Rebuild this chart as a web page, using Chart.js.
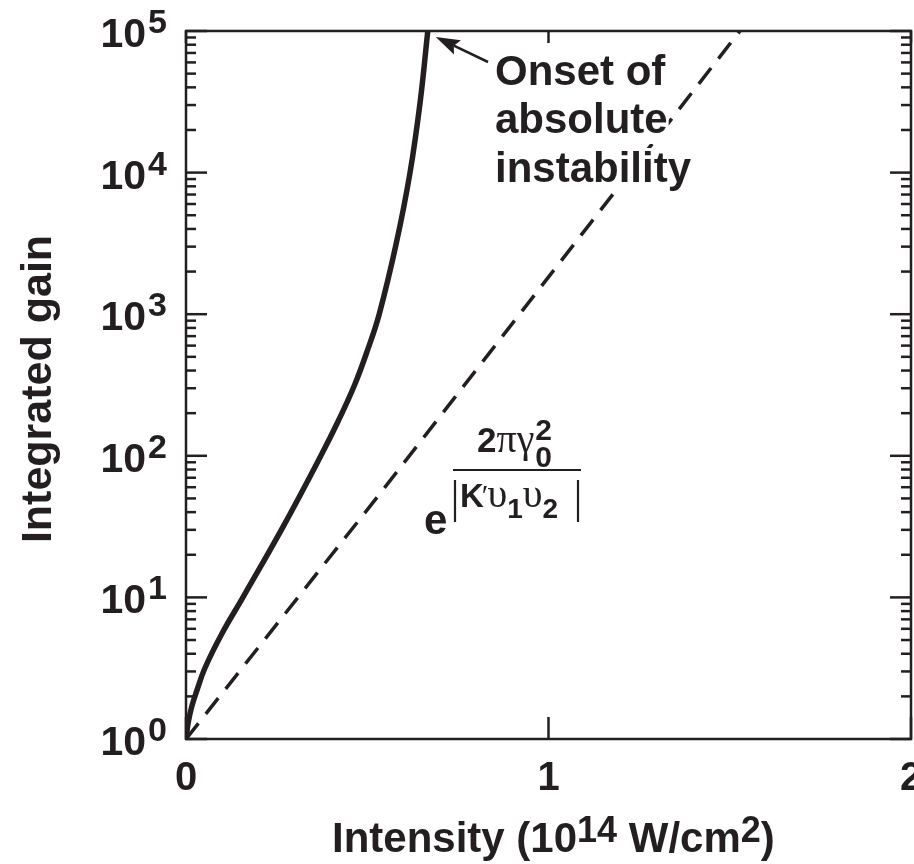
<!DOCTYPE html>
<html>
<head>
<meta charset="utf-8">
<script src="https://cdn.jsdelivr.net/npm/chart.js@4/dist/chart.umd.min.js"></script>
<style>
  html, body { margin: 0; padding: 0; background: #fff; }
  #wrap { width: 914px; height: 864px; }
</style>
</head>
<body>
<div id="wrap"><canvas id="gainChart" width="914" height="864"></canvas></div>
<script>
// solid curve: integrated gain vs intensity
const intensitySolid = [0, 0.006, 0.016, 0.03, 0.052, 0.1, 0.157, 0.268, 0.372, 0.42, 0.465, 0.5, 0.533, 0.58, 0.618, 0.646, 0.667];
const gainSolid = [1, 1.3, 1.7, 2.2, 3.16, 5.6, 10, 31.6, 100, 176, 316, 550, 1000, 3160, 10000, 31600, 100000];

// dashed curve: exponential estimate
const intensityDashed = [0, 0.535, 1.528];
const gainDashed = [1, 54, 100000];

const xTickValues = [0, 1, 2];
const yTickExponents = [0, 1, 2, 3, 4, 5];
const annotationLines = ['Onset of', 'absolute', 'instability'];

const INK = '#231f20';
const SANS = '"Liberation Sans", Arial, Helvetica, sans-serif';
const SERIF = '"Liberation Serif", "Times New Roman", serif';

function toPoints(xs, ys) {
    return xs.map((v, i) => ({ x: v, y: ys[i] }));
}

function seg(ctx, x1, y1, x2, y2) {
    ctx.beginPath();
    ctx.moveTo(x1, y1);
    ctx.lineTo(x2, y2);
    ctx.stroke();
}

function txt(ctx, s, x, y, font, align) {
    ctx.font = font;
    ctx.textAlign = align || 'left';
    ctx.fillText(s, x, y);
    return ctx.measureText(s).width;
}

const paperPlugin = {
    id: 'paper',
    afterDatasetsDraw(chart) {
        const { ctx, chartArea: a, scales } = chart;
        const x = scales.x, y = scales.y;
        ctx.save();
        ctx.strokeStyle = INK;
        ctx.fillStyle = INK;
        ctx.lineWidth = 2.5;
        ctx.lineCap = 'butt';
        ctx.textBaseline = 'alphabetic';

        // frame
        ctx.strokeRect(a.left, a.top, a.right - a.left, a.bottom - a.top);

        // log ticks on left and right, pointing inwards
        yTickExponents.forEach(k => {
            for (let m = 1; m <= 9; m++) {
                const v = m * Math.pow(10, k);
                if (v > 1e5) break;
                const py = y.getPixelForValue(v);
                const len = m === 1 ? 21 : 10;
                seg(ctx, a.left, py, a.left + len, py);
                seg(ctx, a.right, py, a.right - len, py);
            }
        });

        // x ticks
        xTickValues.forEach(v => {
            const px = x.getPixelForValue(v);
            seg(ctx, px, a.bottom, px, a.bottom - 22);
            seg(ctx, px, a.top, px, a.top + 12);
            txt(ctx, String(v), px, a.bottom + 51, 'bold 40px ' + SANS, 'center');
        });

        // y tick labels 10^k
        yTickExponents.forEach(k => {
            const py = y.getPixelForValue(Math.pow(10, k));
            const right = a.left - 19;
            ctx.font = 'bold 34px ' + SANS;
            const sw = ctx.measureText(String(k)).width;
            txt(ctx, String(k), right, py + 2, 'bold 34px ' + SANS, 'right');
            txt(ctx, '10', right - sw - 2, py + 16, 'bold 41px ' + SANS, 'right');
        });

        // x title with superscripts
        const xt = [['Intensity (10', 0], ['14', 1], [' W/cm', 0], ['2', 1], [')', 0]];
        let cx = 332;
        const xBase = a.bottom + 113;
        xt.forEach(([s, sup]) => {
            const f = sup ? 'bold 36px ' + SANS : 'bold 42px ' + SANS;
            cx += txt(ctx, s, cx, sup ? xBase - 10 : xBase, f, 'left');
        });

        // y title
        ctx.save();
        ctx.translate(51, (a.top + a.bottom) / 2 + 4);
        ctx.rotate(-Math.PI / 2);
        txt(ctx, 'Integrated gain', 0, 0, 'bold 43px ' + SANS, 'center');
        ctx.restore();

        // annotation text with white mask behind it
        const annX = 495;
        const annBase = [85, 133, 182];
        ctx.font = 'bold 42px ' + SANS;
        annotationLines.forEach((s, i) => {
            const w = ctx.measureText(s).width;
            ctx.fillStyle = '#fff';
            ctx.fillRect(annX - 3, annBase[i] - 34, w + 4, 45);
        });
        ctx.fillStyle = INK;
        annotationLines.forEach((s, i) => {
            txt(ctx, s, annX, annBase[i], 'bold 42px ' + SANS, 'left');
        });

        // arrow to the top of the solid curve
        const tipX = x.getPixelForValue(intensitySolid[intensitySolid.length - 1]) + 8;
        const tipY = a.top + 6;
        const tailX = 488, tailY = 62;
        const ang = Math.atan2(tailY - tipY, tailX - tipX);
        const hl = 24, hw = 8;
        const bx = tipX + hl * Math.cos(ang), by = tipY + hl * Math.sin(ang);
        ctx.lineWidth = 2.5;
        seg(ctx, bx - 4 * Math.cos(ang), by - 4 * Math.sin(ang), tailX, tailY);
        ctx.beginPath();
        ctx.moveTo(tipX, tipY);
        ctx.lineTo(bx + hw * Math.sin(ang), by - hw * Math.cos(ang));
        ctx.lineTo(bx - 4 * Math.cos(ang), by - 4 * Math.sin(ang));
        ctx.lineTo(bx - hw * Math.sin(ang), by + hw * Math.cos(ang));
        ctx.closePath();
        ctx.fill();

        // formula e^{2πγ0² / |K'υ1υ2|}
        txt(ctx, 'e', 424, 534, 'bold 42px ' + SANS, 'left');
        let nx = 477;
        nx += txt(ctx, '2', nx, 452, 'bold 35px ' + SANS, 'left');
        nx += txt(ctx, 'π', nx, 452, '40px ' + SERIF, 'left');
        nx += txt(ctx, 'γ', nx, 452, '40px ' + SERIF, 'left') + 1;
        txt(ctx, '2', nx, 440, 'bold 30px ' + SANS, 'left');
        txt(ctx, '0', nx, 467, 'bold 30px ' + SANS, 'left');
        ctx.lineWidth = 2.2;
        seg(ctx, 453, 470, 581, 470);
        seg(ctx, 455, 480, 455, 522);
        seg(ctx, 578, 480, 578, 522);
        let dx = 460;
        dx += txt(ctx, 'K', dx, 507, 'bold 33px ' + SANS, 'left');
        dx += txt(ctx, '\u2032', dx - 2, 505, '30px ' + SERIF, 'left') - 3;
        dx += txt(ctx, 'υ', dx, 507, '40px ' + SERIF, 'left');
        dx += txt(ctx, '1', dx, 518, 'bold 28px ' + SANS, 'left');
        dx += txt(ctx, 'υ', dx, 507, '40px ' + SERIF, 'left');
        txt(ctx, '2', dx, 518, 'bold 28px ' + SANS, 'left');

        ctx.restore();
    }
};

const ctx = document.getElementById('gainChart').getContext('2d');
new Chart(ctx, {
    type: 'line',
    data: {
        datasets: [
            {
                label: 'Integrated gain',
                data: toPoints(intensitySolid, gainSolid),
                borderColor: INK,
                borderWidth: 5.5,
                pointRadius: 0,
                tension: 0.4,
                fill: false
            },
            {
                label: 'Exponential',
                data: toPoints(intensityDashed, gainDashed),
                borderColor: INK,
                borderWidth: 3.5,
                borderDash: [20, 12],
                pointRadius: 0,
                tension: 0,
                fill: false
            }
        ]
    },
    options: {
        responsive: false,
        animation: false,
        layout: { padding: { left: 186, right: 3, top: 31, bottom: 125 } },
        plugins: {
            legend: { display: false },
            tooltip: { enabled: false }
        },
        scales: {
            x: { type: 'linear', min: 0, max: 2, display: false },
            y: { type: 'logarithmic', min: 1, max: 100000, display: false }
        }
    },
    plugins: [paperPlugin]
});
</script>
</body>
</html>
